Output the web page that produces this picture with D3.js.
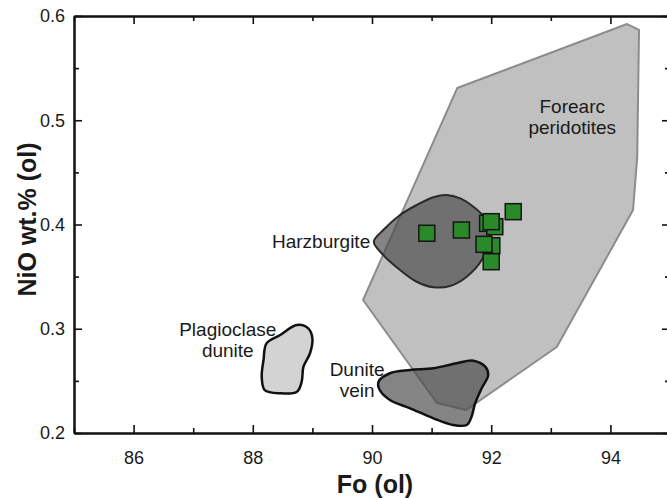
<!DOCTYPE html>
<html>
<head>
<meta charset="utf-8">
<script src="https://cdn.jsdelivr.net/npm/d3@7"></script>
<style>
  body { margin: 0; background: #fff; }
  svg { display: block; font-family: "Liberation Sans", Arial, sans-serif; }
</style>
</head>
<body>
<div id="chart"></div>
<script>
// Fo vs NiO in olivine, fields + sample points
const xMajorTicks = [86, 88, 90, 92, 94];
const xMinorTicks = [85, 87, 89, 91, 93, 95];
const yMajorTicks = [0.2, 0.3, 0.4, 0.5, 0.6];
const yMinorTicks = [0.25, 0.35, 0.45, 0.55];

// field outlines, [Fo, NiO]
const forearcField = [
  [89.85, 0.3276], [91.43, 0.5309], [94.28, 0.5923], [94.48, 0.5866],
  [94.45, 0.4647], [94.38, 0.4139], [93.10, 0.2825], [91.58, 0.2221], [91.09, 0.2288]
];
const harzburgiteField = [
  [90.03, 0.3835], [90.19, 0.3947], [90.47, 0.4091], [90.75, 0.4187], [91.03, 0.4261],
  [91.25, 0.4283], [91.48, 0.4251], [91.70, 0.4171], [91.87, 0.4075], [91.98, 0.3883],
  [91.84, 0.3659], [91.59, 0.3499], [91.31, 0.3410], [91.03, 0.3398], [90.75, 0.3451],
  [90.47, 0.3564], [90.19, 0.3707]
];
const plagioclaseDuniteField = [
  [88.74, 0.3036], [88.93, 0.3004], [89.00, 0.2908], [88.96, 0.2765], [88.85, 0.2636],
  [88.82, 0.2492], [88.74, 0.2396], [88.46, 0.2381], [88.20, 0.2412], [88.15, 0.2540],
  [88.18, 0.2700], [88.23, 0.2860], [88.46, 0.2940]
];
const duniteVeinField = [
  [90.11, 0.2492], [90.30, 0.2573], [90.64, 0.2604], [91.03, 0.2621], [91.42, 0.2669],
  [91.70, 0.2694], [91.90, 0.2636], [91.95, 0.2556], [91.84, 0.2429], [91.73, 0.2285],
  [91.67, 0.2156], [91.59, 0.2077], [91.36, 0.2077], [91.03, 0.2141], [90.64, 0.2237],
  [90.30, 0.2317], [90.13, 0.2412]
];

// samples
const sampleFo = [90.92, 91.50, 92.37, 91.94, 92.06, 92.00, 92.01, 91.88, 92.00];
const sampleNiO = [0.3916, 0.3947, 0.4123, 0.4011, 0.3979, 0.4027, 0.3797, 0.3810, 0.3643];

// field labels, anchored at the first line
const labelLines = [["Forearc", "peridotites"], ["Harzburgite"], ["Plagioclase", "dunite"], ["Dunite", "vein"]];
const labelFo = [93.36, 89.97, 87.58, 89.75];
const labelNiO = [0.5137, 0.3842, 0.2998, 0.2614];
const labelAnchor = ["middle", "end", "middle", "middle"];

const W = 667, H = 498;
const margin = { top: 16, right: -3, bottom: 65, left: 74 };
const width = W - margin.left - margin.right;
const height = H - margin.top - margin.bottom;

const svg = d3.select("#chart").append("svg")
  .attr("width", W)
  .attr("height", H);

const g = svg.append("g")
  .attr("transform", "translate(" + margin.left + "," + margin.top + ")");

const x = d3.scaleLinear().domain([85, 95]).range([0, width]);
const y = d3.scaleLinear().domain([0.2, 0.6]).range([height, 0]);

const shape = d3.line().x(d => x(d[0])).y(d => y(d[1]));

// forearc field (straight edges)
g.append("path")
  .datum(forearcField)
  .attr("d", shape.curve(d3.curveLinearClosed))
  .attr("fill", "#c0c0c0")
  .attr("stroke", "#8c8c8c")
  .attr("stroke-width", 2)
  .attr("stroke-linejoin", "round");

const blob = d3.line().x(d => x(d[0])).y(d => y(d[1])).curve(d3.curveCatmullRomClosed.alpha(0.5));

g.append("path")
  .datum(plagioclaseDuniteField)
  .attr("d", blob)
  .attr("fill", "#d3d3d3")
  .attr("stroke", "#111")
  .attr("stroke-width", 2.5);

g.append("path")
  .datum(duniteVeinField)
  .attr("d", blob)
  .attr("fill", "#4a4a4a")
  .attr("fill-opacity", 0.68)
  .attr("stroke", "#111")
  .attr("stroke-width", 2.5);

g.append("path")
  .datum(harzburgiteField)
  .attr("d", blob)
  .attr("fill", "#4a4a4a")
  .attr("fill-opacity", 0.68)
  .attr("stroke", "#2a2a2a")
  .attr("stroke-width", 2);

// sample squares
const sq = 16;
g.selectAll("rect.sample")
  .data(sampleFo.map((fo, i) => [fo, sampleNiO[i]]))
  .join("rect")
  .attr("class", "sample")
  .attr("x", d => x(d[0]) - sq / 2)
  .attr("y", d => y(d[1]) - sq / 2)
  .attr("width", sq)
  .attr("height", sq)
  .attr("fill", "#2a8a2a")
  .attr("stroke", "#141414")
  .attr("stroke-width", 1.5);

// field labels
labelLines.forEach((lines, i) => {
  const t = g.append("text")
    .attr("x", x(labelFo[i]))
    .attr("y", y(labelNiO[i]))
    .attr("text-anchor", labelAnchor[i])
    .style("font-size", "19px")
    .style("fill", "#1a1a1a");
  lines.forEach((line, j) => {
    t.append("tspan")
      .attr("x", x(labelFo[i]))
      .attr("dy", j === 0 ? "0.35em" : "1.12em")
      .text(line);
  });
});

// axes: ticks pointing inward on all four sides
function styleAxis(sel) {
  sel.selectAll("path.domain").attr("stroke", "#111").attr("stroke-width", 2);
  sel.selectAll(".tick line").attr("stroke", "#111").attr("stroke-width", 1.6);
  sel.selectAll(".tick text").style("font-size", "18px").style("fill", "#1a1a1a").attr("font-family", null);
}

g.append("g")
  .attr("transform", "translate(0," + height + ")")
  .call(d3.axisBottom(x).tickValues(xMajorTicks).tickSize(-8).tickSizeOuter(0).tickPadding(18))
  .call(styleAxis);
g.append("g")
  .attr("transform", "translate(0," + height + ")")
  .call(d3.axisBottom(x).tickValues(xMinorTicks).tickSize(-5).tickSizeOuter(0).tickFormat(""))
  .call(styleAxis);
g.append("g")
  .call(d3.axisTop(x).tickValues(xMajorTicks).tickSize(-8).tickSizeOuter(0).tickFormat(""))
  .call(styleAxis);
g.append("g")
  .call(d3.axisTop(x).tickValues(xMinorTicks).tickSize(-5).tickSizeOuter(0).tickFormat(""))
  .call(styleAxis);

g.append("g")
  .call(d3.axisLeft(y).tickValues(yMajorTicks).tickSize(-8).tickSizeOuter(0).tickPadding(9).tickFormat(d3.format(".1f")))
  .call(styleAxis);
g.append("g")
  .call(d3.axisLeft(y).tickValues(yMinorTicks).tickSize(-5).tickSizeOuter(0).tickFormat(""))
  .call(styleAxis);
g.append("g")
  .attr("transform", "translate(" + width + ",0)")
  .call(d3.axisRight(y).tickValues(yMajorTicks).tickSize(-8).tickSizeOuter(0).tickFormat(""))
  .call(styleAxis);
g.append("g")
  .attr("transform", "translate(" + width + ",0)")
  .call(d3.axisRight(y).tickValues(yMinorTicks).tickSize(-5).tickSizeOuter(0).tickFormat(""))
  .call(styleAxis);

// axis titles
g.append("text")
  .attr("x", width / 2 + 3)
  .attr("y", height + 60)
  .attr("text-anchor", "middle")
  .style("font-size", "25px")
  .style("font-weight", "bold")
  .style("fill", "#1a1a1a")
  .text("Fo (ol)");

g.append("text")
  .attr("transform", "rotate(-90)")
  .attr("x", -height / 2 + 5)
  .attr("y", -38)
  .attr("text-anchor", "middle")
  .style("font-size", "25px")
  .style("font-weight", "bold")
  .style("fill", "#1a1a1a")
  .text("NiO wt.% (ol)");
</script>
</body>
</html>
